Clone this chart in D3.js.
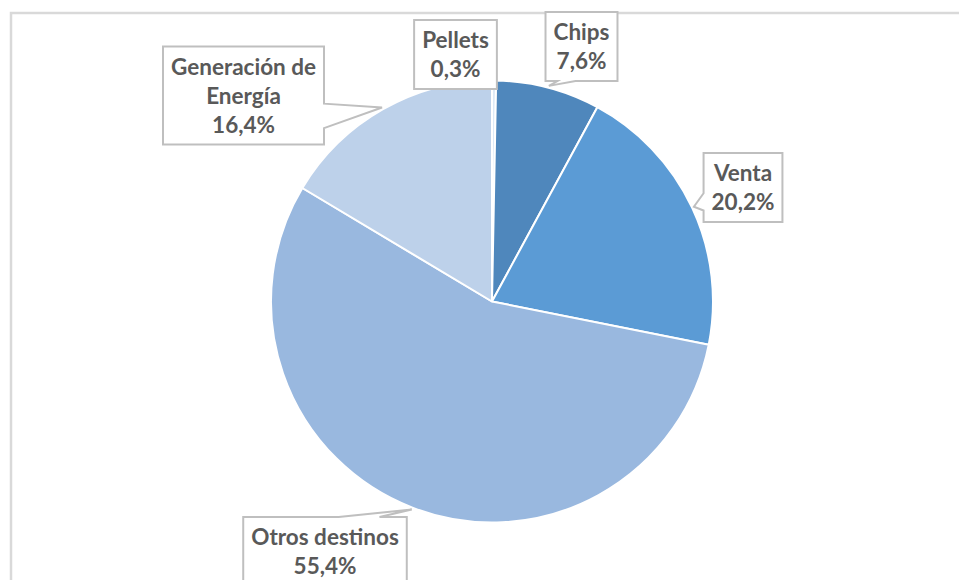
<!DOCTYPE html>
<html>
<head>
<meta charset="utf-8">
<script src="https://cdn.jsdelivr.net/npm/d3@7"></script>
<style>
  body { margin: 0; background: #fff; }
  svg { display: block; }
</style>
</head>
<body>
<div id="chart"></div>
<script>
// data, slice order as in the source sheet (first slice starts at 12 o'clock)
var categories = ["Pellets", "Chips", "Venta", "Otros destinos", "Generación de Energía"];
var values = [0.3, 7.6, 20.2, 55.4, 16.4];
var labelLines = [["Pellets"], ["Chips"], ["Venta"], ["Otros destinos"], ["Generación de", "Energía"]];

// styles / layout
var colors = ["#DDE9F6", "#4F87BC", "#5B9BD5", "#99B8DF", "#BDD1EA"];
// label box centres, relative to the pie centre (hand placed like in Excel)
var labelOffset = [[-36.5, -247], [89.5, -255], [251, -114], [-167, 250], [-248.5, -206]];

var width = 959, height = 580;
var cx = 492, cy = 301.5, radius = 221;
var lineH = 29, padX = 8, padY = 5.5;
var textColor = "#595959";

var svg = d3.select("#chart").append("svg")
    .attr("width", width)
    .attr("height", height);

// chart area border (cropped on the right and bottom)
svg.append("rect")
    .attr("x", 11).attr("y", 13)
    .attr("width", 1000).attr("height", 1000)
    .attr("fill", "#fff")
    .attr("stroke", "#D9D9D9")
    .attr("stroke-width", 2.5);

var data = categories.map(function (c, i) {
    return {name: c, value: values[i], lines: labelLines[i], color: colors[i], off: labelOffset[i]};
});

var pie = d3.pie()
    .sort(null)
    .value(function (d) { return d.value; });

var arc = d3.arc()
    .innerRadius(0)
    .outerRadius(radius);

var tipArc = d3.arc()
    .innerRadius(radius + 2)
    .outerRadius(radius + 2);

var arcs = pie(data);

var g = svg.append("g")
    .attr("transform", "translate(" + cx + "," + cy + ")");

g.selectAll("path.slice")
    .data(arcs)
    .enter()
    .append("path")
    .attr("class", "slice")
    .attr("d", arc)
    .attr("fill", function (d) { return d.data.color; })
    .attr("stroke", "#fff")
    .attr("stroke-width", 2)
    .attr("stroke-linejoin", "round");

var pct = d3.formatLocale({decimal: ",", thousands: ".", grouping: [3], currency: ["", "€"]}).format(".1f");

// rectangle callout like Office's wedgeRectCallout
function callout(l, t, w, h, tx, ty) {
    var r = l + w, b = t + h;
    if (tx >= l && tx <= r && ty >= t && ty <= b) {
        return "M" + l + "," + t + "H" + r + "V" + b + "H" + l + "Z";
    }
    var dx = tx - (l + w / 2), dy = ty - (t + h / 2);
    var dq = dx * h / w;
    var p;
    if (Math.abs(dy) > Math.abs(dq)) {
        var x1 = l + w * (dx > 0 ? 7 : 2) / 12,
            x2 = l + w * (dx > 0 ? 10 : 5) / 12;
        if (dy < 0) {
            p = [[l, t], [x1, t], [tx, ty], [x2, t], [r, t], [r, b], [l, b]];
        } else {
            p = [[l, t], [r, t], [r, b], [x2, b], [tx, ty], [x1, b], [l, b]];
        }
    } else {
        var y1 = t + h * (dy > 0 ? 7 : 2) / 12,
            y2 = t + h * (dy > 0 ? 10 : 5) / 12;
        if (dx < 0) {
            p = [[l, t], [r, t], [r, b], [l, b], [l, y2], [tx, ty], [l, y1]];
        } else {
            p = [[l, t], [r, t], [r, y1], [tx, ty], [r, y2], [r, b], [l, b]];
        }
    }
    return "M" + p.map(function (q) { return q.join(","); }).join("L") + "Z";
}

var labels = g.selectAll("g.label")
    .data(arcs)
    .enter()
    .append("g")
    .attr("class", "label");

labels.each(function (d) {
    var lg = d3.select(this);
    var lines = d.data.lines.concat([pct(d.data.value) + "%"]);
    var box = lg.append("path")
        .attr("fill", "#fff")
        .attr("stroke", "#BFBFBF")
        .attr("stroke-width", 2);
    var txt = lg.append("text")
        .attr("text-anchor", "middle")
        .attr("fill", textColor)
        .style("font-family", "Lato, 'Noto Sans', sans-serif")
        .style("font-weight", "bold")
        .style("font-size", "22.5px");
    var ox = d.data.off[0], oy = d.data.off[1];
    lines.forEach(function (s, i) {
        txt.append("tspan")
            .attr("x", ox)
            .attr("y", oy + (i - (lines.length - 1) / 2) * lineH + 8)
            .text(s);
    });
    var tw = 0;
    txt.selectAll("tspan").each(function () {
        tw = Math.max(tw, this.getComputedTextLength());
    });
    var w = tw + 2 * padX, h = lines.length * lineH + 2 * padY;
    var tip = tipArc.centroid(d);
    box.attr("d", callout(ox - w / 2, oy - h / 2, w, h, tip[0], tip[1]));
});
</script>
</body>
</html>
